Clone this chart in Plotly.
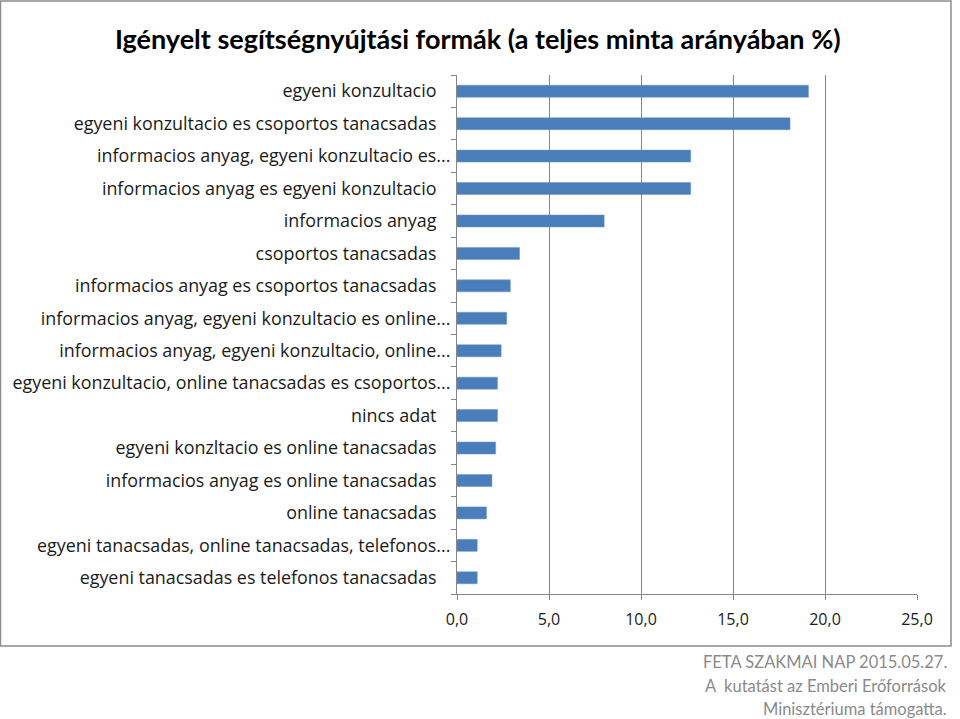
import plotly.graph_objects as go

categories = [
    "egyeni konzultacio",
    "egyeni konzultacio es csoportos tanacsadas",
    "informacios anyag, egyeni konzultacio es...",
    "informacios anyag es egyeni konzultacio",
    "informacios anyag",
    "csoportos tanacsadas",
    "informacios anyag es csoportos tanacsadas",
    "informacios anyag, egyeni konzultacio es online...",
    "informacios anyag, egyeni konzultacio, online...",
    "egyeni konzultacio, online tanacsadas es csoportos...",
    "nincs adat",
    "egyeni konzltacio es online tanacsadas",
    "informacios anyag es online tanacsadas",
    "online tanacsadas",
    "egyeni tanacsadas, online tanacsadas, telefonos...",
    "egyeni tanacsadas es telefonos tanacsadas",
]
values = [19.1, 18.1, 12.7, 12.7, 8.0, 3.4, 2.9, 2.7, 2.4, 2.2, 2.2, 2.1, 1.9, 1.6, 1.1, 1.1]

x_tickvals = [0, 5, 10, 15, 20, 25]
x_ticktext = ["0,0", "5,0", "10,0", "15,0", "20,0", "25,0"]

title_text = "Igényelt segítségnyújtási formák (a teljes minta arányában %)"
footer_lines = [
    "FETA SZAKMAI NAP 2015.05.27.",
    "A  kutatást az Emberi Erőforrások",
    "Minisztériuma támogatta.",
]

W, H = 960, 719
ML, MR, MT, MB = 457, 43, 75, 125
PW, PH = W - ML - MR, H - MT - MB


def px(x):
    return (x - ML) / PW


def py(y):
    return 1 - (y - MT) / PH


# Excel-style: truncated labels (with ellipsis) reach further right
y_ticktext = [c if c.endswith("...") else c + "\u00a0\u00a0\u00a0" for c in categories]

fig = go.Figure(
    go.Bar(
        x=values,
        y=categories,
        orientation="h",
        marker=dict(color="#4a7ebb", line=dict(color="#6a94c8", width=0.5)),
        hoverinfo="x+y",
    )
)

fig.update_layout(
    width=W,
    height=H,
    margin=dict(l=ML, r=MR, t=MT, b=MB, autoexpand=False),
    paper_bgcolor="white",
    plot_bgcolor="white",
    bargap=0.63,
    showlegend=False,
    font=dict(family="Open Sans", color="#1a1a1a"),
    xaxis=dict(
        range=[0, 25],
        tickvals=x_tickvals,
        ticktext=x_ticktext,
        showgrid=True,
        gridcolor="#868686",
        gridwidth=1,
        zeroline=False,
        showline=True,
        linecolor="#868686",
        ticks="outside",
        ticklen=5,
        tickcolor="#868686",
        tickfont=dict(size=16, family="Open Sans", color="#1a1a1a"),
        ticklabelstandoff=6,
        automargin=False,
        fixedrange=True,
    ),
    yaxis=dict(
        autorange="reversed",
        type="category",
        tickmode="array",
        tickvals=categories,
        ticktext=y_ticktext,
        showgrid=False,
        showline=True,
        linecolor="#868686",
        ticks="outside",
        tickson="boundaries",
        ticklen=5,
        tickcolor="#868686",
        tickfont=dict(size=17.9, family="Open Sans", color="#1a1a1a"),
        ticklabelstandoff=2,
        automargin=False,
        fixedrange=True,
    ),
)

# outer chart frame
fig.add_shape(
    type="rect", xref="paper", yref="paper",
    x0=px(0.5), x1=px(951), y0=py(1), y1=py(646),
    line=dict(color="#8c8c8c", width=1.5), fillcolor="rgba(0,0,0,0)", layer="below",
)

fig.add_annotation(
    text="<b>" + title_text + "</b>",
    xref="paper", yref="paper", x=px(478), y=py(38),
    xanchor="center", yanchor="middle", showarrow=False,
    font=dict(family="Lato", size=27, color="#000000"),
)

for i, line in enumerate(footer_lines):
    fig.add_annotation(
        text=line, xref="paper", yref="paper",
        x=px(949), y=py(662 + i * 23.5),
        xanchor="right", yanchor="middle", showarrow=False,
        font=dict(family="Lato", size=16.5, color="#8a8a8a"),
    )

fig.write_html("out.html")
